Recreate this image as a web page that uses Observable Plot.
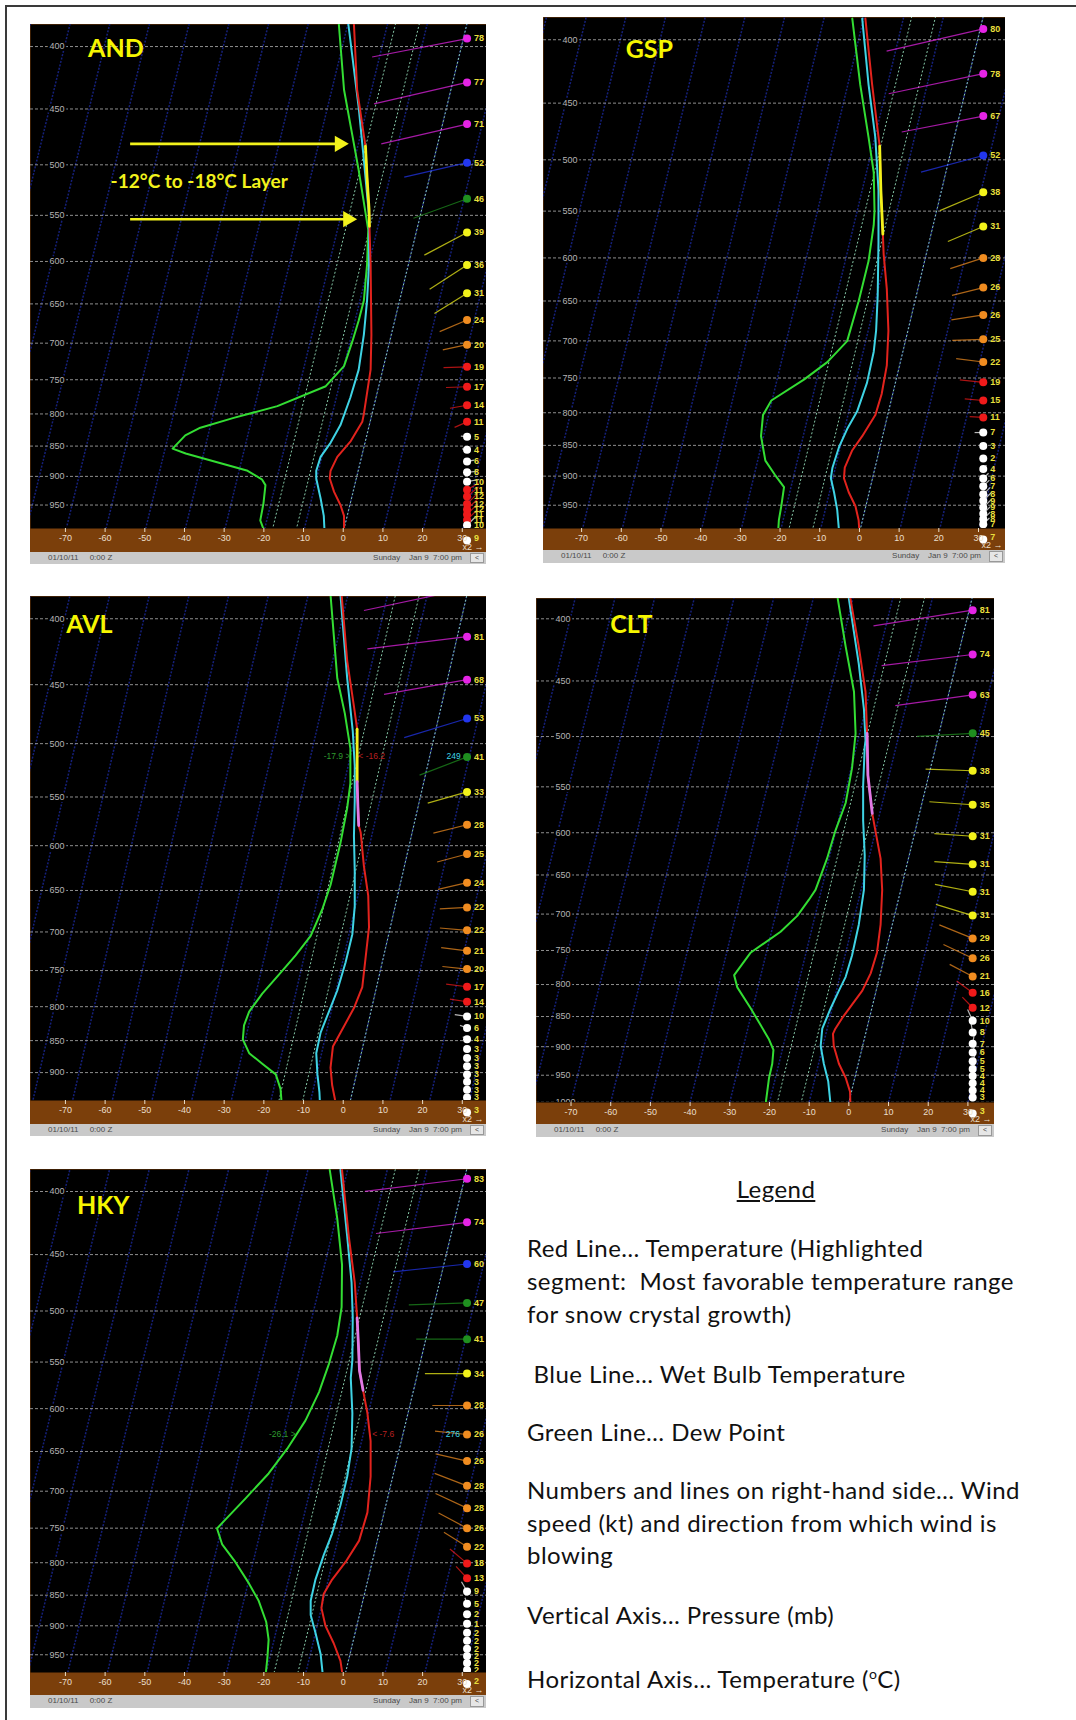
<!DOCTYPE html>
<html><head><meta charset="utf-8">
<script src="https://cdn.jsdelivr.net/npm/d3@7"></script>
<script src="https://cdn.jsdelivr.net/npm/@observablehq/plot@0.6"></script>
<style>
body{margin:0;background:#fff;width:1076px;height:1720px;position:relative;overflow:hidden;font-family:Lato,"Open Sans",sans-serif;}
.pageframe{position:absolute;left:5px;top:5px;width:1071px;height:1715px;border-top:2px solid #3a3a3a;border-left:2px solid #3a3a3a;box-sizing:border-box;}
.panel{position:absolute;overflow:hidden;}
.panel svg{display:block;}
.status{position:relative;background:#c9c9c9;font:8px/10px "Liberation Sans",Arial,sans-serif;color:#4a4a4a;white-space:pre;}
.status .l{position:absolute;left:18px;top:1px;}
.status .r{position:absolute;right:24px;top:1px;}
.status .b{position:absolute;right:2px;top:1px;width:14px;bottom:1px;background:#e6e6e6;border:1px solid #999;box-sizing:border-box;font-size:7px;line-height:8px;text-align:center;}
.legend{position:absolute;font-family:Lato,"Open Sans",sans-serif;font-size:24px;letter-spacing:0.45px;color:#111;white-space:pre;line-height:32px;}
</style></head><body>
<div class="pageframe"></div>
<div id="root"></div>
<script>
// ---------- data (x = position on the bottom temperature axis, °C; p = pressure, mb) ----------
const pressureTicks = [400,450,500,550,600,650,700,750,800,850,900,950,1000];
const axisTicks = [-70,-60,-50,-40,-30,-20,-10,0,10,20,30];
const isothermsBlue = d3.range(-150, 60, 10);
const isothermsGreen = [0, -12, -18];

// [p, x]
const AND_temp = [[383.7,2.7],[434,3.5],[473,5.2],[482.6,5.6],[512,6.0],[543.3,6.5],[561.5,6.6],[603.7,6.9],[688.8,7.1],[735.8,6.9],[800,5.2],[812,4.8],[842,1.9],[867.5,-1.5],[890.6,-3.2],[903.7,-3.4],[926.7,-2.3],[950,-0.7],[969.7,0.2],[1000,0.2]];
const AND_hl = [[482.6,5.6],[512,6.0],[543.3,6.5],[561.5,6.6]];
const AND_wb = [[383.7,1.3],[448.8,3.9],[495.4,5.2],[550.5,6.5],[603.7,6.5],[646,6.0],[688.8,5.2],[735.8,3.9],[775.6,1.8],[817,-0.7],[844.8,-3.2],[867.5,-5.7],[890.6,-6.8],[903.7,-6.8],[938.3,-5.7],[969.7,-4.9],[1000,-4.7]];
const AND_dp = [[383.7,-1.1],[434,0.2],[473,2.3],[505.3,3.9],[546.9,5.6],[565.2,6.3],[603.7,6.0],[646,5.2],[670.6,3.9],[697.7,2.3],[730.9,0.2],[759.2,-4.4],[788.3,-16.6],[806,-27.6],[821,-36],[833,-39.8],[854,-43],[862,-39.7],[890,-24.3],[905,-20.5],[915,-19.6],[947,-20.1],[978,-20.9],[1000,-19.8]];
// [p, speed kt, direction deg]
const AND_wind = [[394,78,259],[428,77,257],[463,71,257],[498,52,257],[533,46,250],[568,39,242],[604,36,237],[637,31,238],[670,24,247],[702,20,258],[732,19,268],[760,17,268],[787,14,260],[812,11,246],[835,5,275],[856,4,280],[875,6,80],[893,8,85],[909,10,80],[923,11,60],[935,12,50],[948,12,45],[958,12,45],[967,11,45],[977,11,45],[987,10,45]];
const AND_sfc = [9];

const GSP_temp = [[384.6,1.5],[434.8,3.2],[473.4,4.6],[487.5,5.1],[529,5.4],[574,5.9],[595.8,6.1],[635.9,6.9],[686.9,7.3],[732.5,6.9],[772.6,5.6],[803.5,4.0],[835.6,0.7],[857.7,-1.8],[886,-3.7],[903.5,-3.9],[927.4,-2.7],[951.9,-1.0],[976.8,-0.2],[1000,0]];
const GSP_hl = [[487.5,5.1],[529,5.4],[574,5.9]];
const GSP_wb = [[384.6,0.7],[434.8,2.3],[479.6,4.0],[529,4.8],[583.3,4.8],[643.3,4.6],[686.9,4.2],[714.2,3.6],[756.8,1.9],[798.3,-0.6],[824.6,-3.1],[851.9,-5.1],[886,-6.8],[903.5,-7.2],[927.4,-6.4],[958.2,-5.6],[1000,-5.1]];
const GSP_dp = [[384.6,-1.8],[434.8,0.2],[479.6,2.3],[511.9,3.6],[550,3.8],[564.6,3.6],[603.5,2.3],[650.3,-0.2],[700.3,-3.1],[728.2,-8.1],[751.9,-13.9],[782,-22.2],[803.5,-24.3],[835.6,-24.8],[874.5,-23.7],[897.8,-21.3],[918.5,-19.0],[951.9,-19.7],[976.8,-20.3],[1000,-20.5]];
const GSP_wind = [[392,80,257],[426,78,258],[461,67,259],[496,52,255],[531,38,247],[566,31,247],[600,28,252],[634,26,256],[667,26,261],[698,25,268],[728,22,277],[756,19,276],[782,15,275],[807,11,273],[830,7,270],[851,3,300],[871,2,20],[888,4,40],[904,6,45],[917,7,45],[931,8,45],[942,9,45],[954,9,45],[965,8,45],[975,8,45],[984,7,45]];
const GSP_sfc = [7];

const AVL_temp = [[383.3,-0.4],[431.2,1.0],[467.8,2.7],[487.2,3.5],[535.2,3.5],[578.8,3.9],[586,4.4],[622,5.2],[656.1,6.3],[693.9,6.5],[734.5,5.6],[772.4,4.8],[802,2.7],[838,-0.7],[859.1,-2.6],[891.9,-3.2],[920.2,-2.8],[943.5,-2.1],[960,-1.8]];
const AVL_hl = [[487.2,3.5],[535.2,3.5]];
const AVL_hl2 = [[535.2,3.5],[560,3.7],[578.8,3.9]];
const AVL_wb = [[383.3,-0.7],[444.9,1.0],[488.7,2.4],[520.3,2.9],[553.9,2.9],[589.8,2.7],[627.9,2.9],[668.5,2.9],[702.8,2.3],[739,0.6],[777.2,-1.5],[807,-3.6],[838,-5.7],[869.3,-6.8],[902.9,-6.5],[931.8,-6.0],[960,-5.8]];
const AVL_dp = [[383.3,-3.2],[444.9,-1.5],[473.7,0.4],[504.3,1.8],[536.9,1.8],[560.9,1.0],[597.2,-0.7],[643.7,-3.2],[672.5,-5.3],[705,-8.2],[729.8,-12.0],[755.4,-16.2],[781.6,-20.4],[807,-23.7],[827.2,-25.0],[848.1,-25.3],[869.3,-23.7],[885.8,-20.4],[902.9,-17.0],[926.5,-15.8],[943.5,-15.6],[960,-15.6]];
const AVL_wind = [[379,85,258],[413,81,263],[446,68,260],[478,53,253],[512,41,249],[545,33,254],[578,28,256],[609,25,255],[641,24,257],[670,22,267],[698,22,275],[724,21,277],[748,20,276],[772,17,277],[793,14,279],[814,10,278],[831,6,290],[848,4,300],[863,3,330],[877,3,20],[890,3,30],[903,3,30],[915,3,30],[928,3,30],[941,3,30]];
const AVL_sfc = [3];
const AVL_readDew = [[1.8,511.5,"-17.9 >"]];
const AVL_readTemp = [[3.8,511.5,"< -16.2"]];
const AVL_readDir = [[29.6,511.5,"249"]];

const CLT_temp = [[385,0.4],[421.6,2.5],[459.3,4.2],[497.1,4.6],[538,4.8],[578.4,5.9],[597.8,6.7],[630.2,8.0],[668.6,8.4],[714.2,8.0],[752.8,7.1],[783.2,5.5],[809.3,3.4],[831,0.8],[852.7,-1.7],[869.8,-3.4],[878.4,-4.0],[898.9,-3.8],[929.6,-2.5],[954.5,-0.8],[980,0.3],[1005,0.4]];
const CLT_hl = [[497.1,4.6],[538,4.8],[578.4,5.9]];
const CLT_wb = [[385,0],[435.7,2.5],[474.7,3.8],[503.7,4.2],[510,4.0],[548.8,3.6],[586.2,3.6],[626.2,4.0],[668.6,3.8],[714.2,2.5],[757.2,0.8],[788.4,-0.8],[809.3,-2.5],[837.1,-4.6],[869.8,-6.7],[898.9,-7.1],[929.6,-6.3],[960.8,-5.2],[1005,-4.6]];
const CLT_dp = [[385,-2.8],[421.6,-0.8],[459.3,1.3],[497.1,1.7],[530.9,0.8],[567.1,-0.8],[597.8,-3.4],[630.2,-5.5],[668.6,-8.4],[681.5,-10.1],[702.4,-13.0],[723.9,-17.2],[752.8,-24.7],[785.9,-28.9],[804.3,-28.1],[837.1,-24.7],[864.2,-22.2],[887.9,-20.1],[905.6,-19.0],[929.6,-19.3],[954.5,-20.1],[1005,-21.0]];
const CLT_wind = [[393.5,81,261],[428,74,263],[462,63,262],[497,45,267],[533.5,38,272],[569,35,274],[604,31,274],[637,31,274],[671,31,281],[702,31,287],[733,29,292],[761,26,295],[788,21,298],[812.5,16,306],[836,12,316],[857,10,336],[876,8,350],[895,7,10],[910,6,15],[925,5,20],[939,5,20],[951.5,4,20],[964.5,4,20],[978,4,20],[991,3,20]];
const CLT_sfc = [3];

const HKY_temp = [[384.2,-0.3],[434.9,1.4],[474,2.9],[506.4,3.5],[530.3,3.8],[559.1,4.1],[579.8,5.0],[605.2,6.1],[637.5,6.9],[681,6.9],[728.2,6.1],[767.7,4.0],[798.8,0.6],[825.6,-2.8],[847.7,-4.9],[870.4,-5.5],[899.6,-4.5],[929.8,-2.4],[961,-0.7],[980.2,-0.3],[990,-0.2]];
const HKY_hl = [[506.4,3.5],[530.3,3.8],[559.1,4.1],[579.8,5.0]];
const HKY_wb = [[384.2,-0.7],[434.9,1.0],[474,2.1],[506.4,2.4],[548.1,2.3],[566.5,1.9],[605.2,2.3],[646.6,2.1],[681,1.0],[718.7,-0.7],[757.6,-2.8],[788.4,-4.9],[825.6,-7.0],[859,-8.2],[882,-8.2],[911.6,-7.0],[948.5,-5.7],[990,-5.1]];
const HKY_dp = [[384.2,-3.4],[420.8,-1.5],[458.6,-0.3],[496.4,-0.4],[523.4,-1.5],[551.8,-3.6],[581.7,-6.1],[613.3,-9.5],[646.6,-14.1],[677.2,-18.8],[709.4,-24.6],[738.2,-29.7],[750.4,-31.8],[773.2,-30.5],[798.8,-27.2],[831.1,-23.8],[859,-21.3],[893.7,-19.4],[923.6,-18.8],[954.6,-19.1],[990,-19.6]];
const HKY_wind = [[390.6,83,263],[423.7,74,263],[458,60,264],[492.5,47,268],[527,41,270],[562,34,270],[596.5,28,270],[629.7,26,276],[661.7,26,283],[693,28,291],[722.5,28,295],[750,26,298],[776.5,22,302],[801,18,310],[823.5,13,317],[844,9,330],[863.5,5,340],[881,2,350],[896.6,1,0],[911.6,2,10],[925.5,2,20],[939.4,2,20],[952,2,20],[964.7,2,20],[977.6,2,20]];
const HKY_sfc = [2];
const HKY_readDew = [[-12.0,629.7,"-26.1 >"]];
const HKY_readTemp = [[7.3,629.7,"< -7.6"]];
const HKY_readDir = [[29.4,629.7,"276"]];

// station names [x, p]
const stationLabels = {AND:[-64.3,408], GSP:[-58.9,413.6], AVL:[-69.8,410], CLT:[-60.1,410.7], HKY:[-67.1,417.5]};
// AND annotation: arrows [x1, p, x2] and text [x, p, text]
const AND_arrows = [[-53.7,480.6,1.4],[-53.7,554,3.5]];
const AND_note = [[-36.3,516.7,"-12°C to -18°C Layer"]];

// ---------- drawing ----------
const SKEW = 32.5;           // chart projection: x shift per ln(1000/p)
const YELLOW = "#f2f21c", PINK = "#e07ae6";
const skewX = (t, p) => t + SKEW * Math.log(1000 / p);
function windColor(s) {
  return s >= 61 ? "#e524e5" : s >= 50 ? "#2236ee" : s >= 40 ? "#1f8f1f" : s >= 30 ? "#f2f21a" : s >= 20 ? "#f08c20" : s >= 11 ? "#f01a1a" : "#ffffff";
}

const panels = [
  {name:"AND", left:30, top:24, W:456, Hplot:504, brownH:24, statusH:12, xmin:-78.8, xmax:36.1, pTop:383.7, pSurf:993,
   temp:AND_temp, wb:AND_wb, dp:AND_dp, hls:[[AND_hl,YELLOW]], winds:AND_wind, sfc:AND_sfc},
  {name:"GSP", left:543, top:17, W:462, Hplot:511, brownH:22, statusH:13, xmin:-79.6, xmax:36.8, pTop:383.8, pSurf:992,
   temp:GSP_temp, wb:GSP_wb, dp:GSP_dp, hls:[[GSP_hl,YELLOW]], winds:GSP_wind, sfc:GSP_sfc},
  {name:"AVL", left:30, top:596, W:456, Hplot:504, brownH:24, statusH:12, xmin:-78.8, xmax:36.1, pTop:384.4, pSurf:946,
   temp:AVL_temp, wb:AVL_wb, dp:AVL_dp, hls:[[AVL_hl,YELLOW],[AVL_hl2,PINK]], winds:AVL_wind, sfc:AVL_sfc,
   read:[AVL_readDew, AVL_readTemp, AVL_readDir]},
  {name:"CLT", left:536, top:598, W:458, Hplot:504, brownH:22, statusH:13, xmin:-78.7, xmax:36.7, pTop:384.9, pSurf:1000.4,
   temp:CLT_temp, wb:CLT_wb, dp:CLT_dp, hls:[[CLT_hl,PINK]], winds:CLT_wind, sfc:CLT_sfc},
  {name:"HKY", left:30, top:1169, W:456, Hplot:503, brownH:23, statusH:13, xmin:-78.8, xmax:36.1, pTop:383.9, pSurf:982,
   temp:HKY_temp, wb:HKY_wb, dp:HKY_dp, hls:[[HKY_hl,PINK]], winds:HKY_wind, sfc:HKY_sfc,
   read:[HKY_readDew, HKY_readTemp, HKY_readDir]}
];

const root = document.getElementById("root");
for (const c of panels) {
  const pxPerDeg = c.W / (c.xmax - c.xmin);
  const pxPerLn = c.Hplot / Math.log(c.pSurf / c.pTop);
  const xDot = 31.2;
  const windLines = c.winds.map(([p, s, d]) => {
    const L = s * 1.24, r = d * Math.PI / 180;
    return {p, s, x2: xDot + L * Math.sin(r) / pxPerDeg, p2: p * Math.exp(-L * Math.cos(r) / pxPerLn)};
  });
  const pLo = 1080, pHi = 350;
  const lab = stationLabels[c.name];
  const shownTicks = pressureTicks.filter(p => p <= c.pSurf * 1.008);
  const marks = [
    Plot.frame({fill: "black", stroke: "none"}),
    Plot.link(isothermsBlue, {x1: t => skewX(t, pLo), y1: () => pLo, x2: t => skewX(t, pHi), y2: () => pHi,
      stroke: "#15207a", strokeWidth: 1.5, strokeDasharray: "2,1.5", clip: true}),
    Plot.link(isothermsGreen, {x1: t => skewX(t, pLo), y1: () => pLo, x2: t => skewX(t, pHi), y2: () => pHi,
      stroke: "#86c8a8", strokeWidth: 1, strokeDasharray: "2,2", clip: true}),
    Plot.ruleY(pressureTicks, {y: d => d, stroke: "#8e8e8e", strokeWidth: 1, strokeDasharray: "3,2", clip: true}),
    Plot.text(shownTicks, {y: d => d, text: d => String(d), frameAnchor: "left", dx: 19, textAnchor: "start",
      fill: "#b4b4b4", stroke: "black", strokeWidth: 4, paintOrder: "stroke", fontSize: 9, clip: true}),
    Plot.line(c.dp, {x: d => d[1], y: d => d[0], stroke: "#33dd33", strokeWidth: 2, clip: true}),
    Plot.line(c.wb, {x: d => d[1], y: d => d[0], stroke: "#3fd3e4", strokeWidth: 2, clip: true}),
    Plot.line(c.temp, {x: d => d[1], y: d => d[0], stroke: "#e2231d", strokeWidth: 2, clip: true}),
    ...c.hls.map(([data, col]) => Plot.line(data, {x: d => d[1], y: d => d[0], stroke: col, strokeWidth: 2.8, clip: true})),
    Plot.link(windLines, {x1: () => xDot, y1: "p", x2: "x2", y2: "p2", stroke: d => windColor(d.s),
      strokeOpacity: 0.72, strokeWidth: 1.2, clip: true}),
    Plot.dot(c.winds, {x: () => xDot, y: d => d[0], r: 4, fill: d => windColor(d[1]), stroke: "none", clip: true}),
    Plot.text(c.winds, {x: () => xDot, y: d => d[0], text: d => String(d[1]), dx: 7, textAnchor: "start",
      fill: "#e8df3c", fontSize: 9, fontWeight: "bold", clip: true}),
    Plot.dot(c.sfc, {x: () => xDot, frameAnchor: "bottom", dy: c.brownH / 2, r: 4, fill: "white"}),
    Plot.text(c.sfc, {x: () => xDot, frameAnchor: "bottom", dy: c.brownH / 2, text: d => String(d), dx: 7,
      textAnchor: "start", fill: "#e8df3c", fontSize: 9, fontWeight: "bold"}),
    Plot.axisX(axisTicks, {anchor: "bottom", tickSize: 4, tickPadding: 2, tickFormat: d => String(d),
      color: "#eadfcb", fontSize: 9}),
    Plot.text([c.name], {x: () => lab[0], y: () => lab[1], text: d => d, textAnchor: "start", lineAnchor: "bottom",
      fill: "#f6f600", fontSize: 25, fontWeight: "bold", fontFamily: "Lato, 'Open Sans', sans-serif"})
  ];
  if (c.read) {
    const [rd, rt, rdir] = c.read;
    marks.push(
      Plot.text(rd, {x: d => d[0], y: d => d[1], text: d => d[2], textAnchor: "end", fill: "#2e9a2e", fontSize: 8.5, clip: true}),
      Plot.text(rt, {x: d => d[0], y: d => d[1], text: d => d[2], textAnchor: "start", fill: "#b82020", fontSize: 8.5, clip: true}),
      Plot.text(rdir, {x: d => d[0], y: d => d[1], text: d => d[2], textAnchor: "end", fill: "#3fd3e4", fontSize: 8.5, clip: true})
    );
  }
  if (c.name === "AND") {
    marks.push(
      Plot.link(AND_arrows, {x1: d => d[0], y1: d => d[1], x2: d => d[2] - 9 / pxPerDeg, y2: d => d[1], stroke: YELLOW, strokeWidth: 2.6}),
      Plot.dot(AND_arrows, {x: d => d[2], y: d => d[1], symbol: "triangle", rotate: 90, r: 6, dx: -9.3, fill: YELLOW, stroke: "none"}),
      Plot.text(AND_note, {x: d => d[0], y: d => d[1], text: d => d[2], fill: YELLOW, fontSize: 19, fontWeight: "bold",
        fontFamily: "Lato, 'Open Sans', sans-serif"})
    );
  }
  const svg = Plot.plot({
    width: c.W, height: c.Hplot + c.brownH,
    marginTop: 0, marginLeft: 0, marginRight: 0, marginBottom: c.brownH,
    x: {domain: [c.xmin, c.xmax]},
    y: {type: "log", domain: [c.pSurf, c.pTop], axis: null},
    color: {type: "identity"},
    style: {background: "#7b3f0b", fontFamily: "'Liberation Sans', Arial, sans-serif", fontSize: "9px", overflow: "hidden"},
    marks
  });
  const div = document.createElement("div");
  div.className = "panel";
  div.style.left = c.left + "px";
  div.style.top = c.top + "px";
  div.style.width = c.W + "px";
  div.appendChild(svg);
  const st = document.createElement("div");
  st.className = "status";
  st.style.height = c.statusH + "px";
  st.innerHTML = '<span class="l">01/10/11     0:00 Z</span><span class="r">Sunday    Jan 9  7:00 pm</span><span class="b">&lt;</span>';
  div.appendChild(st);
  root.appendChild(div);
}

// ---------- legend text ----------
const legendLines = [
  ["Legend", 1188.6, "center"],
  ["Red Line… Temperature (Highlighted", 1247.5],
  ["segment:  Most favorable temperature range", 1281],
  ["for snow crystal growth)", 1313.6],
  [" Blue Line… Wet Bulb Temperature", 1373.6],
  ["Green Line… Dew Point", 1432],
  ["Numbers and lines on right-hand side… Wind", 1490],
  ["speed (kt) and direction from which wind is", 1522.5],
  ["blowing", 1554.6],
  ["Vertical Axis… Pressure (mb)", 1615],
  ["Horizontal Axis… Temperature (<sup style='font-size:14px'>o</sup>C)", 1674]
];
for (const [t, y, a] of legendLines) {
  const d = document.createElement("div");
  d.className = "legend";
  d.style.top = (y - 16) + "px";
  if (a === "center") { d.style.left = "676px"; d.style.width = "200px"; d.style.textAlign = "center"; d.style.textDecoration = "underline"; }
  else d.style.left = "527px";
  d.innerHTML = t;
  document.body.appendChild(d);
}
</script></body></html>
